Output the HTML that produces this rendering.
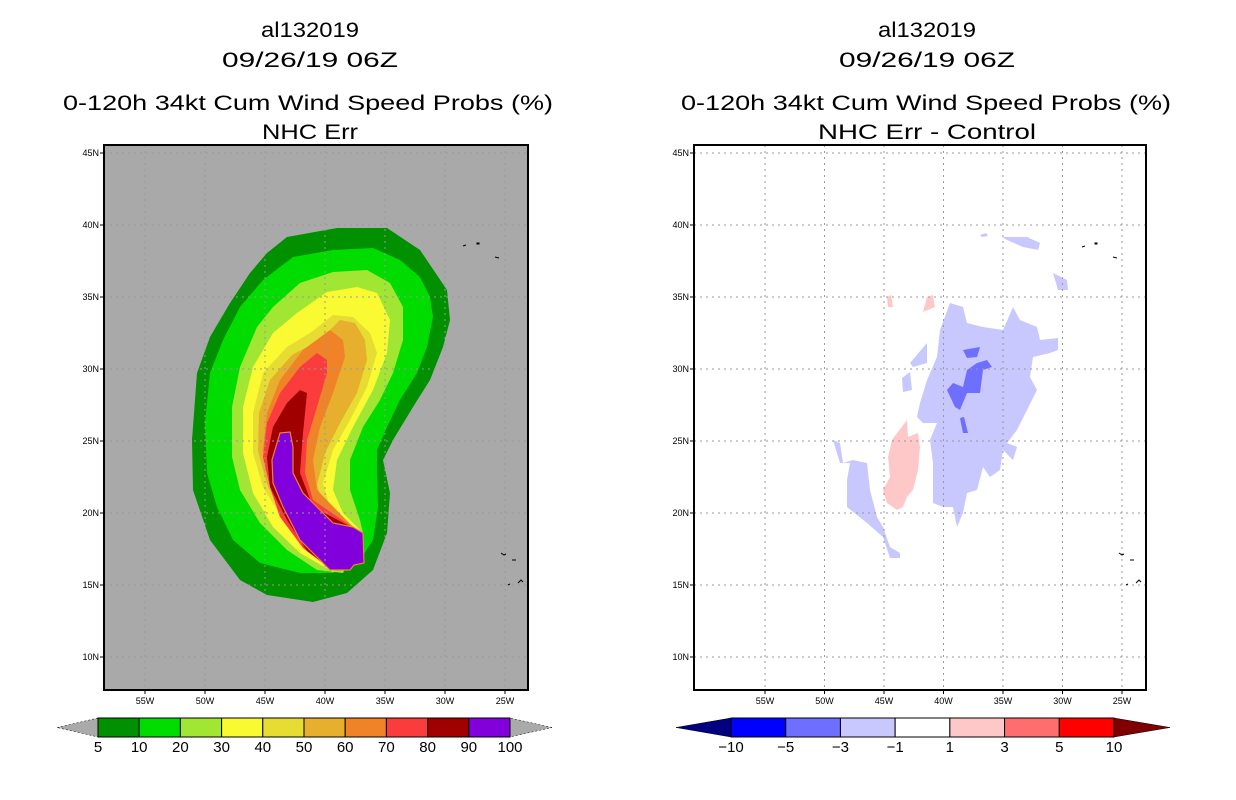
<!DOCTYPE html>
<html><head><meta charset="utf-8">
<style>
html,body{margin:0;padding:0;background:#fff;}
svg{display:block;font-family:"Liberation Sans",sans-serif;}
.t{font-size:21px;fill:#000;text-anchor:middle;}
.ax{font-size:9px;fill:#000;}
.cb{font-size:15px;fill:#000;text-anchor:middle;}
</style></head>
<body>
<svg id="page" width="1236" height="800" viewBox="0 0 1236 800">
<rect width="1236" height="800" fill="#fff"/>
<!-- Titles -->
<g>
<text class="t" x="310" y="37" textLength="98" lengthAdjust="spacingAndGlyphs">al132019</text>
<text class="t" x="310" y="67" textLength="176" lengthAdjust="spacingAndGlyphs">09/26/19 06Z</text>
<text class="t" x="308" y="110" textLength="490" lengthAdjust="spacingAndGlyphs">0-120h 34kt Cum Wind Speed Probs (%)</text>
<text class="t" x="310" y="139" textLength="96" lengthAdjust="spacingAndGlyphs">NHC Err</text>
</g>
<g>
<text class="t" x="927" y="37" textLength="98" lengthAdjust="spacingAndGlyphs">al132019</text>
<text class="t" x="927" y="67" textLength="176" lengthAdjust="spacingAndGlyphs">09/26/19 06Z</text>
<text class="t" x="926" y="110" textLength="490" lengthAdjust="spacingAndGlyphs">0-120h 34kt Cum Wind Speed Probs (%)</text>
<text class="t" x="927" y="139" textLength="218" lengthAdjust="spacingAndGlyphs">NHC Err - Control</text>
</g>

<!-- Left map -->
<g>
<rect x="104" y="145" width="424" height="545" fill="#a9a9a9"/>
<path fill="#009000" d="M287,237 L337,228 387,228 420,250 447,290 450,320 443,347 430,380 413,407 393,440 383,460 390,493 387,533 373,570 347,593 313,602 267,595 240,580 210,540 193,490 192,440 197,373 210,337 230,303 250,273 267,253Z"/>
<path fill="#00dc00" d="M263,280 L293,257 333,250 373,248 400,260 420,277 430,297 433,317 427,347 417,373 400,400 387,427 377,450 377,473 378,507 373,540 360,560 333,573 300,573 260,563 233,540 217,507 207,473 205,423 210,373 223,340 240,307Z"/>
<path fill="#a0e632" d="M273,307 L300,283 333,272 367,270 390,283 403,307 403,340 393,373 380,400 363,427 350,460 350,490 360,520 363,533 343,573 317,570 287,550 260,523 240,490 232,457 232,407 240,367 257,327Z"/>
<path fill="#fafa32" d="M297,313 L327,292 357,287 377,293 390,320 387,353 373,390 353,427 337,460 333,490 343,513 360,530 362,540 333,572 300,553 273,527 253,493 243,453 243,407 253,367 273,333Z"/>
<path fill="#e6dc32" d="M310,333 L333,315 353,317 370,333 377,353 367,387 350,420 333,450 323,483 330,507 357,530 332,568 303,547 283,520 263,487 253,453 253,413 263,373 287,347Z"/>
<path fill="#e6af2d" d="M320,340 L340,320 355,323 365,340 367,360 357,393 340,423 325,453 317,485 325,510 355,529 331,566 301,545 282,516 267,484 258,451 259,413 270,380 292,355Z"/>
<path fill="#f08228" d="M330,330 L343,340 345,357 333,393 320,427 313,460 317,490 354,528 330,565 307,545 287,517 270,483 263,450 267,413 280,380 303,350Z"/>
<path fill="#fa3c3c" d="M317,353 L327,360 327,373 317,407 307,440 305,473 313,500 355,529 329,568 303,548 280,517 270,487 263,457 267,423 280,393 300,367Z"/>
<path fill="#a00000" d="M300,390 L307,393 303,433 300,473 313,507 355,529 330,568 307,551 287,520 270,487 267,457 273,427 287,403Z"/>
<path fill="#8200dc" stroke="#f08228" stroke-width="1.2" d="M280,433 L290,432 293,447 293,473 303,493 333,523 353,527 363,533 364,563 354,565 350,570 330,570 320,560 300,540 283,507 273,483 272,460Z"/>
<g id="left-grid"></g>
<g fill="none" stroke="#000" stroke-width="1">
<path d="M463,246 l3,-1 M477,243 l2,0 0,1 -2,0z M495,257 l4,1"/>
<path d="M501,553 l3,2 2,-1 M512,560 l4,0 M508,585 l2,-1 M518,583 l3,-3 2,2"/>
</g>
<rect x="104" y="145" width="424" height="545" fill="none" stroke="#000" stroke-width="2"/>
<g id="left-axes"></g>
</g>

<!-- Right map -->
<g>
<rect x="694" y="145" width="452" height="545" fill="#fff"/>
<g fill="#c8c8ff">
<path d="M940,330 L950,303 963,307 967,323 983,327 1003,330 1013,307 1020,320 1037,327 1040,340 1058,338 1058,350 1050,353 1033,357 1030,377 1037,390 1027,410 1017,430 1007,443 1017,447 1013,460 1003,450 1000,470 990,477 983,467 977,490 967,493 963,513 957,527 953,507 943,507 933,503 933,463 930,440 937,423 923,423 917,417 920,403 927,380 937,357Z"/>
<path d="M833,440 L840,443 843,463 853,460 867,463 870,490 877,517 883,527 890,547 900,553 900,558 890,558 883,537 867,523 847,507 847,480 850,463 840,463Z"/>
<path d="M1002,237 L1027,237 1040,243 1038,250 1023,247 1007,240Z"/>
<path d="M1053,273 L1067,280 1068,290 1058,290Z"/>
<path d="M910,363 L927,343 927,363 913,367Z"/>
<path d="M902,378 L910,372 912,390 903,392Z"/>
<path d="M980,235 l6,-2 2,3 -6,1z"/>
</g>
<g fill="#6e6eff">
<path d="M947,390 L953,383 963,387 967,370 977,363 987,360 992,367 983,370 980,393 967,393 960,410 955,407Z"/>
<path d="M963,350 L980,347 977,357 967,358Z"/>
<path d="M960,418 L964,417 968,433 963,433Z"/>
</g>
<g fill="#ffc8c8">
<path d="M897,433 L907,420 908,437 918,433 920,447 918,470 913,490 907,497 903,507 897,510 887,503 883,490 890,477 888,457 892,440Z"/>
<path d="M887,297 L891,295 893,307 888,307Z"/>
<path d="M927,297 L933,295 935,307 923,312Z"/>
</g>
<g id="right-grid"></g>
<g fill="none" stroke="#000" stroke-width="1">
<path d="M1082,247 l3,-1 M1095,243 l2,0 0,1 -2,0z M1113,257 l4,1"/>
<path d="M1119,553 l3,2 2,-1 M1130,560 l4,0 M1126,585 l2,-1 M1136,583 l3,-3 2,2"/>
</g>
<rect x="694" y="145" width="452" height="545" fill="none" stroke="#000" stroke-width="2"/>
<g id="right-axes"></g>
</g>

<g id="left-colorbar"></g>
<g id="right-colorbar"></g>
</svg>
<script>
const lonTicks = [-55, -50, -45, -40, -35, -30, -25];
const latTicks = [45, 40, 35, 30, 25, 20, 15, 10];
const probLevels = ["5","10","20","30","40","50","60","70","80","90","100"];
const probColors = ["#009000","#00dc00","#a0e632","#fafa32","#e6dc32","#e6af2d","#f08228","#fa3c3c","#a00000","#8200dc"];
const diffLevels = ["-10","-5","-3","-1","1","3","5","10"];
const diffColors = ["#0000ff","#6e6eff","#c8c8ff","#ffffff","#ffc8c8","#ff6e6e","#ff0000"];

const NS = "http://www.w3.org/2000/svg";
function mk(tag, attrs, parent){const e=document.createElementNS(NS,tag);for(const k in attrs)e.setAttribute(k,attrs[k]);parent.appendChild(e);return e;}
const latY = lat => 153 + (45 - lat) * 14.4;

function axes(gridId, axId, x0, x1, lonX){
  const grid=document.getElementById(gridId), ax=document.getElementById(axId);
  lonTicks.forEach(lon=>{
    const x=lonX(lon);
    const l=mk('line',{x1:x,x2:x,y1:145,y2:690,stroke:'#999','stroke-dasharray':'2,4','stroke-width':1},grid);
    
    
    const t=mk('text',{x:x,y:704,'text-anchor':'middle',class:'ax'},ax);
    t.textContent=Math.abs(lon)+'W';
    
    
    mk('line',{x1:x,x2:x,y1:690,y2:694,stroke:'#000'},ax);
  });
  latTicks.forEach(lat=>{
    const y=latY(lat);
    const l=mk('line',{x1:x0,x2:x1,y1:y,y2:y,stroke:'#999','stroke-dasharray':'2,4','stroke-width':1},grid);
    
    
    mk('line',{x1:x0-4,x2:x0,y1:y,y2:y,stroke:'#000'},ax);
    const t=mk('text',{x:x0-5,y:y+3,'text-anchor':'end',class:'ax'},ax);
    t.textContent=lat+'N';
    
    
  });
}
axes('left-grid','left-axes',104,528,lon=>145+(lon+55)*12);
axes('right-grid','right-axes',694,1146,lon=>765+(lon+55)*11.9);

function colorbar(id, colors, levels, tipL, x0, x1, tipR, lc, rc){
  const g=document.getElementById(id);
  const y0=718,y1=737,ym=(y0+y1)/2,w=(x1-x0)/colors.length;
  mk('polygon',{points:`${tipL},${ym} ${x0},${y0} ${x0},${y1}`,fill:lc,stroke:'#000','stroke-width':0.5,'stroke-dasharray':lc==='#aaaaaa'?'2,2':''},g);
  mk('polygon',{points:`${tipR},${ym} ${x1},${y0} ${x1},${y1}`,fill:rc,stroke:'#000','stroke-width':0.5,'stroke-dasharray':rc==='#aaaaaa'?'2,2':''},g);
  colors.forEach((c,i)=>{
    const r=mk('rect',{x:x0+i*w,y:y0,width:w,height:y1-y0,fill:c,stroke:'#000','stroke-width':1},g);
    
    
  });
  levels.forEach((lv,i)=>{
    const t=mk('text',{x:x0+i*w,y:752,class:'cb'},g);
    t.textContent=lv.replace('-','\u2212');
    
    
  });
}
colorbar('left-colorbar',probColors,probLevels,57,98,510,552,'#aaaaaa','#aaaaaa');
colorbar('right-colorbar',diffColors,diffLevels,676,731,1114,1170,'#000080','#800000');
</script>
</body></html>
